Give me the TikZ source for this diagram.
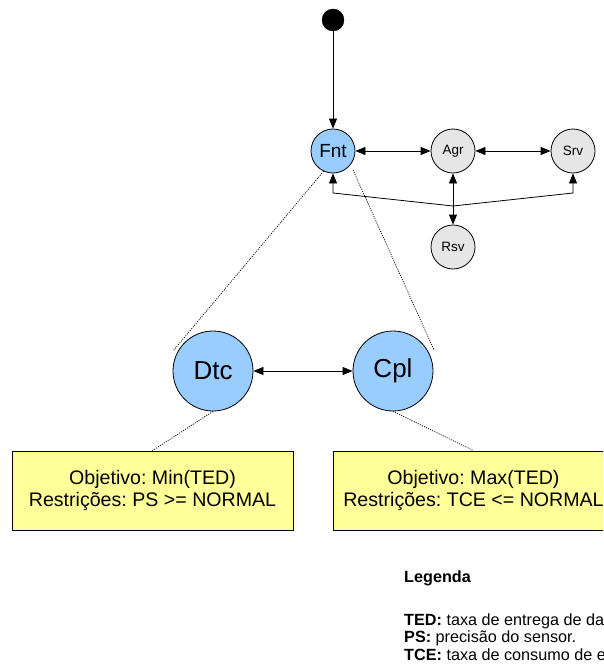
\documentclass[tikz,border=0pt]{standalone}
\usepackage{fontspec}
\setmainfont{Liberation Sans}
\usetikzlibrary{arrows.meta}
\definecolor{nodeblue}{RGB}{153,204,255}
\definecolor{nodegrey}{RGB}{230,230,230}
\definecolor{noteyellow}{RGB}{255,255,153}
\frenchspacing
\begin{document}
\begin{tikzpicture}[x=1pt,y=-1pt,
  startdot/.style={circle,fill=black,draw=black,minimum size=22pt,inner sep=0pt},
  bigstate/.style={circle,draw=black,line width=0.8pt,fill=nodeblue,minimum size=80pt,inner sep=0pt,font=\fontsize{26}{28}\selectfont},
  blue state/.style={circle,draw=black,line width=0.8pt,fill=nodeblue,minimum size=44pt,inner sep=0pt,font=\fontsize{19}{21}\selectfont},
  grey state/.style={circle,draw=black,line width=0.8pt,fill=nodegrey,minimum size=44pt,inner sep=0pt,font=\fontsize{13.5}{15}\selectfont},
  note/.style={rectangle,draw=black,line width=0.8pt,fill=noteyellow,minimum width=281pt,minimum height=79pt,inner sep=0pt,align=center,font=\fontsize{19.6}{22}\selectfont},
  arr/.style={line width=0.8pt,-{Triangle[length=10pt,width=8pt]}},
  dbl/.style={line width=0.8pt,{Triangle[length=10pt,width=8pt]}-{Triangle[length=10pt,width=8pt]}},
  dotline/.style={line width=0.7pt,dash pattern=on 1.1pt off 1.2pt}]
\useasboundingbox (0,0) rectangle (603,666);
\clip (0,0) rectangle (603,666);

% states
\node[startdot] (start) at (333,20) {};
\node[blue state] (fnt) at (333,151) {Fnt};
\node[grey state] (agr) at (453,151) {Agr};
\node[grey state] (srv) at (573,151) {Srv};
\node[grey state] (rsv) at (453,247) {Rsv};
\node[bigstate] (dtc) at (213,371) {Dtc};
\node[bigstate] (cpl) at (393,371) {Cpl};

% notes
\node[note] (n1) at (152.5,490.5) {Objetivo: Min(TED)\\Restrições: PS >= NORMAL};
\node[note] (n2) at (473.5,490.5) {Objetivo: Max(TED)\\Restrições: TCE <= NORMAL};

% transitions
\draw[arr] (start) -- (fnt);
\draw[dbl] (fnt) -- (agr);
\draw[dbl] (agr) -- (srv);
\draw[dbl] (agr) -- (rsv);
\coordinate (jn) at (453,206);
\coordinate (lc) at (333,193);
\coordinate (rc) at (573,193);
\draw[arr] (jn) -- (lc) -- (fnt);
\draw[arr] (jn) -- (rc) -- (srv);
\draw[dbl] (dtc) -- (cpl);

% refinement links
\coordinate (fntR) at (353,170);
\coordinate (dtcL) at (173,351);
\coordinate (cplR) at (434,350);
\draw[dotline] (fnt.245) -- (dtcL);
\draw[dotline] (fntR) -- (cplR);
\draw[dotline] (dtc.south) -- (n1.north);
\draw[dotline] (cpl.south) -- (n2.north);

% legend
\node[anchor=north west,align=left,inner sep=0pt,font=\fontsize{16.2}{17.5}\selectfont] (leg) at (404,571)
  {\textbf{Legenda}\\[25pt]
   \textbf{TED:} taxa de entrega de dados.\\
   \textbf{PS:} precisão do sensor.\\
   \textbf{TCE:} taxa de consumo de energia.};
\end{tikzpicture}
\end{document}
